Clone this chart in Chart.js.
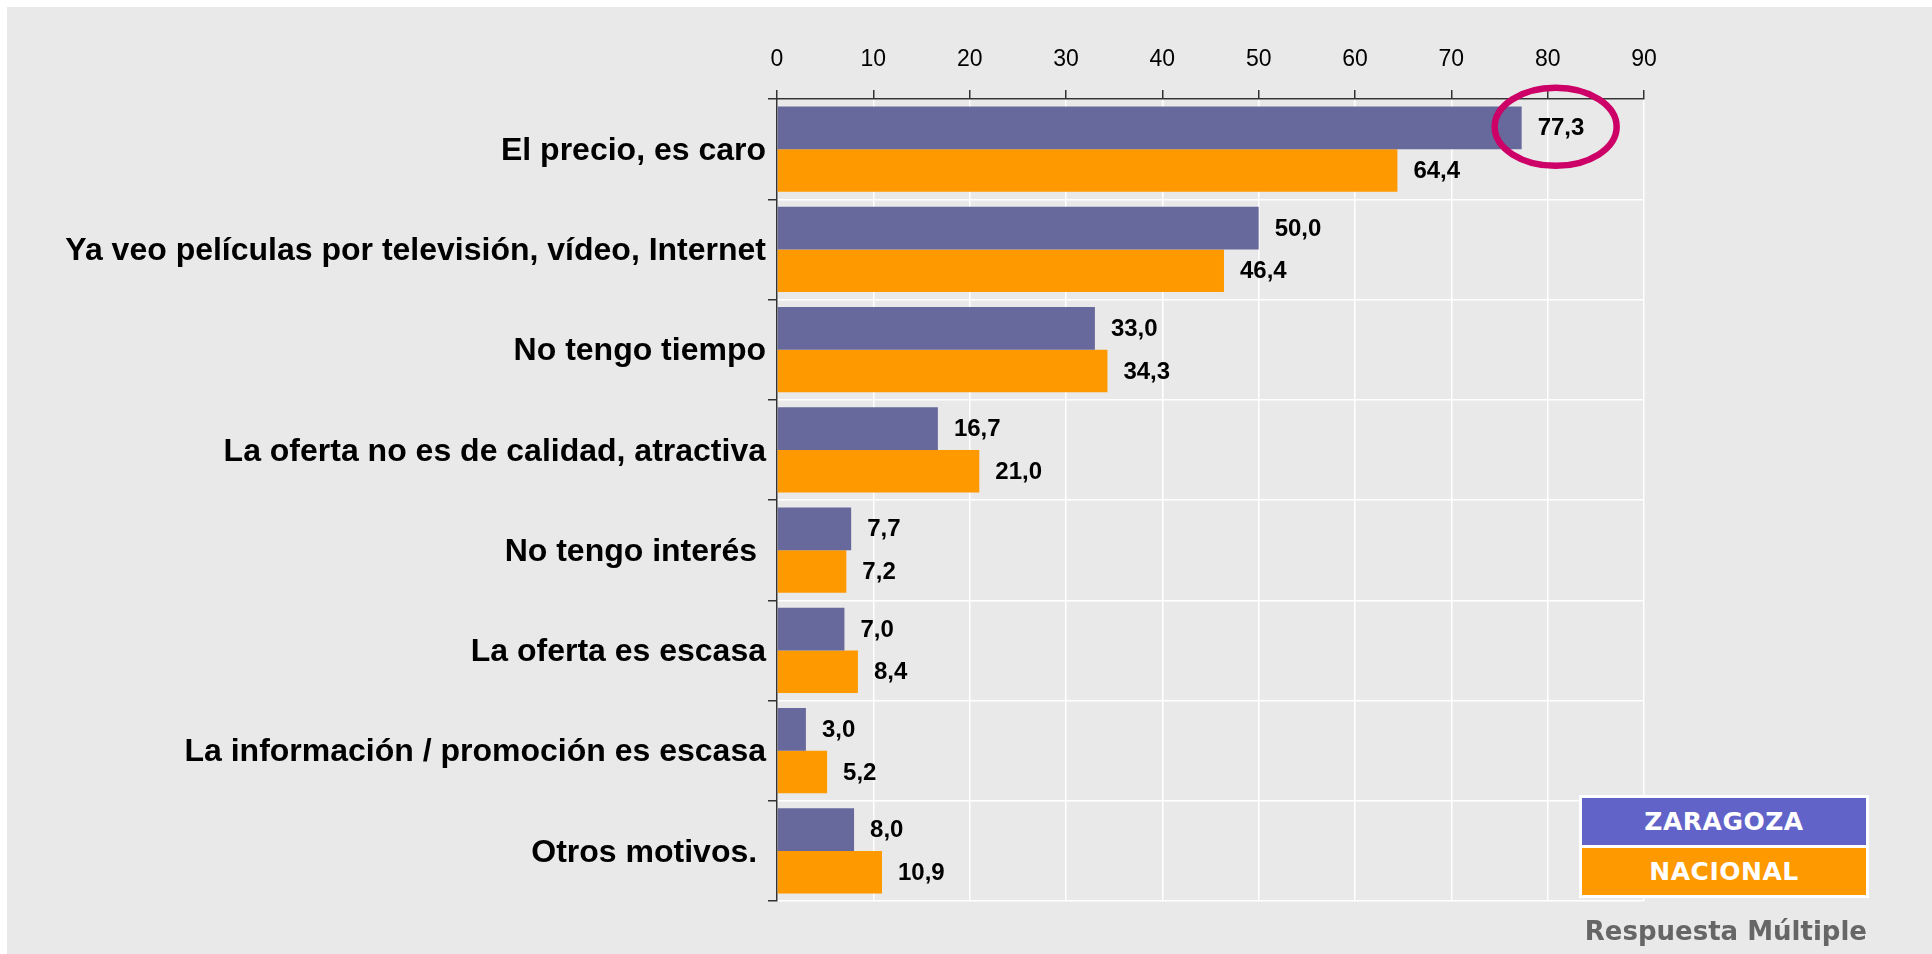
<!DOCTYPE html>
<html>
<head>
<meta charset="utf-8">
<script src="https://cdn.jsdelivr.net/npm/chart.js@4/dist/chart.umd.min.js"></script>
<style>
    html, body { margin: 0; padding: 0; background: #fff; }
    #wrap { position: absolute; left: 7px; top: 7px; width: 1925px; height: 947px; background: #e9e9e9; }
    #legend { position: absolute; left: 1579px; top: 795px; width: 284px; border: 3px solid #fff; }
    #legend div { height: 47px; text-align: center; color: #fff;
        font: bold 25px 'DejaVu Sans', sans-serif; line-height: 47px; letter-spacing: 0.5px; }
    #legend div + div { border-top: 3px solid #fff; }
    #note { position: absolute; right: 65px; top: 915px;
        font: bold 26px 'DejaVu Sans', sans-serif; line-height: 32px; color: #666; }
</style>
</head>
<body>
<div id="wrap"><canvas id="chart" width="1925" height="947"></canvas></div>
<div id="legend"></div>
<div id="note">Respuesta Múltiple</div>
<script>
// Motivos por los que no se va al cine (%)
const categories = [
    'El precio, es caro',
    'Ya veo películas por televisión, vídeo, Internet',
    'No tengo tiempo',
    'La oferta no es de calidad, atractiva',
    'No tengo interés ',
    'La oferta es escasa',
    'La información / promoción es escasa',
    'Otros motivos. '
];
const zaragoza = [77.3, 50.0, 33.0, 16.7, 7.7, 7.0, 3.0, 8.0];
const nacional = [64.4, 46.4, 34.3, 21.0, 7.2, 8.4, 5.2, 10.9];
const seriesNames = ['ZARAGOZA', 'NACIONAL'];
const barColors = ['#67689b', '#ff9900'];
const legendColors = ['#6163c9', '#ff9900'];
const xMin = 0, xMax = 90, xStep = 10;
const highlightIndex = 0; // bar circled in the original

// legend box (html)
const legendEl = document.getElementById('legend');
seriesNames.forEach((name, i) => {
    const row = document.createElement('div');
    row.textContent = name;
    row.style.background = legendColors[i];
    legendEl.appendChild(row);
});

const fmt = v => v.toFixed(1).replace('.', ',');

// values printed at the end of each bar
const valueLabels = {
    id: 'valueLabels',
    afterDatasetsDraw(chart) {
        const ctx = chart.ctx;
        ctx.save();
        ctx.font = 'bold 24px "Liberation Sans", Arial, sans-serif';
        ctx.fillStyle = '#000';
        ctx.textAlign = 'left';
        ctx.textBaseline = 'middle';
        chart.data.datasets.forEach((ds, di) => {
            chart.getDatasetMeta(di).data.forEach((bar, i) => {
                ctx.fillText(fmt(ds.data[i]), bar.x + 16, bar.y + 1);
            });
        });
        ctx.restore();
    }
};

// magenta ring round the top value
const highlightRing = {
    id: 'highlightRing',
    afterDraw(chart) {
        const bar = chart.getDatasetMeta(0).data[highlightIndex];
        if (!bar) return;
        const ctx = chart.ctx;
        ctx.save();
        ctx.strokeStyle = '#cc0066';
        ctx.lineWidth = 6.5;
        ctx.beginPath();
        ctx.ellipse(bar.x + 34, bar.y - 1, 61, 39, 0, 0, Math.PI * 2);
        ctx.stroke();
        ctx.restore();
    }
};

new Chart(document.getElementById('chart'), {
    type: 'bar',
    data: {
        labels: categories,
        datasets: [
            { label: seriesNames[0], data: zaragoza, backgroundColor: barColors[0],
              categoryPercentage: 0.85, barPercentage: 1.0 },
            { label: seriesNames[1], data: nacional, backgroundColor: barColors[1],
              categoryPercentage: 0.85, barPercentage: 1.0 }
        ]
    },
    options: {
        indexAxis: 'y',
        responsive: false,
        animation: false,
        layout: { padding: { left: 0, top: 0, right: 288, bottom: 53 } },
        plugins: {
            legend: { display: false },
            tooltip: { enabled: false }
        },
        scales: {
            x: {
                type: 'linear',
                position: 'top',
                min: xMin,
                max: xMax,
                afterFit(scale) { scale.height = 92; },
                ticks: {
                    stepSize: xStep,
                    color: '#000',
                    padding: 17,
                    font: { family: '"Liberation Sans", Arial, sans-serif', size: 23 }
                },
                grid: { color: '#fff', lineWidth: 1.5, tickColor: '#333', tickLength: 9 },
                border: { color: '#333', width: 1.5 }
            },
            y: {
                afterFit(scale) { scale.width = 770; },
                ticks: {
                    color: '#000',
                    padding: 2,
                    labelOffset: 2,
                    font: { family: '"Liberation Sans", Arial, sans-serif', size: 32, weight: 'bold' }
                },
                grid: { color: '#fff', lineWidth: 1.5, tickColor: '#333', tickLength: 9, offset: true },
                border: { color: '#333', width: 1.5 }
            }
        }
    },
    plugins: [valueLabels, highlightRing]
});
</script>
</body>
</html>
